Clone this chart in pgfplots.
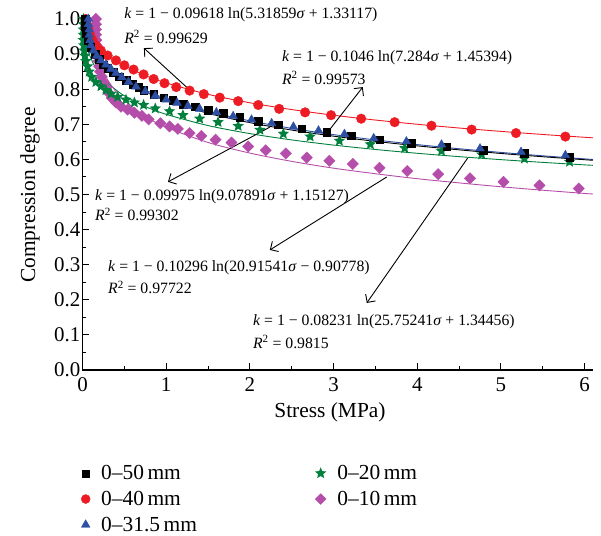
\documentclass[border=0pt]{standalone}
\usepackage{pgfplots}
\pgfplotsset{compat=1.18}
\usepackage{fontspec}
\setmainfont{Liberation Serif}
\usetikzlibrary{arrows.meta}
\definecolor{cred}{RGB}{237,28,36}
\definecolor{cblue}{RGB}{45,80,165}
\definecolor{cgreen}{RGB}{0,128,60}
\definecolor{cpurple}{RGB}{180,78,170}
\pgfdeclareplotmark{fstar}{%
  \pgfpathmoveto{\pgfqpointpolar{90}{\pgfplotmarksize}}%
  \pgfpathlineto{\pgfqpointpolar{126}{0.45\pgfplotmarksize}}%
  \pgfpathlineto{\pgfqpointpolar{162}{\pgfplotmarksize}}%
  \pgfpathlineto{\pgfqpointpolar{198}{0.45\pgfplotmarksize}}%
  \pgfpathlineto{\pgfqpointpolar{234}{\pgfplotmarksize}}%
  \pgfpathlineto{\pgfqpointpolar{270}{0.45\pgfplotmarksize}}%
  \pgfpathlineto{\pgfqpointpolar{306}{\pgfplotmarksize}}%
  \pgfpathlineto{\pgfqpointpolar{342}{0.45\pgfplotmarksize}}%
  \pgfpathlineto{\pgfqpointpolar{18}{\pgfplotmarksize}}%
  \pgfpathlineto{\pgfqpointpolar{54}{0.45\pgfplotmarksize}}%
  \pgfpathclose\pgfusepathqfill}
\begin{document}
\begin{tikzpicture}
\path[use as bounding box] (-82.5bp,-166bp) rectangle (518.5bp,370bp);
\begin{axis}[
  at={(0,0)}, anchor=south west,
  scale only axis, width=510.5bp, height=351bp,
  xmin=0, xmax=6.1, ymin=0, ymax=1.0,
  axis x line*=bottom, axis y line*=left,
  axis line style={line width=1.1bp},
  xtick={0,1,2,3,4,5,6},
  ytick={0,0.1,0.2,0.3,0.4,0.5,0.6,0.7,0.8,0.9,1.0},
  minor x tick num=1, minor y tick num=1,
  tick align=inside,
  major tick length=7bp, minor tick length=4bp,
  tick style={line width=1bp, black},
  yticklabel style={/pgf/number format/fixed, /pgf/number format/fixed zerofill, /pgf/number format/precision=1, inner sep=1bp, xshift=-1bp},
  xticklabel style={yshift=-4bp},
  ticklabel style={font=\fontsize{21}{24}\selectfont},
  /pgf/number format/assume math mode=true,
  xlabel={Stress (MPa)}, ylabel={Compression degree},
  label style={font=\fontsize{21.5}{25}\selectfont},
  xlabel style={at={(axis description cs:0.4848,-0.12)}, anchor=center},
  ylabel style={at={(axis description cs:-0.1028,0.4986)}, anchor=center},
  clip=false,
  legend columns=2,
  legend style={draw=none, fill=none, at={(axis description cs:-0.0088,-0.2600)}, anchor=north west,
    font=\fontsize{21.5}{25}\selectfont, row sep=6bp,
    /tikz/every odd column/.append style={column sep=9bp},
    /tikz/every even column/.append style={column sep=116bp}},
  legend cell align=left,
]
% fitted curves
\addplot[cred, line width=0.9bp, smooth, forget plot] coordinates {(0,0.967)(0.05,0.955)(0.1,0.9402)(0.2,0.916)(0.3,0.8967)(0.4,0.8807)(0.5,0.8669)(0.75,0.8392)(1,0.8178)(1.5,0.7854)(2,0.7613)(2.5,0.742)(3,0.7259)(3.5,0.7121)(4,0.7001)(4.5,0.6894)(5,0.6798)(5.5,0.671)(6,0.663)(6.1,0.6615)};
\addplot[cgreen, line width=0.9bp, smooth, forget plot] coordinates {(0,0.955)(0.05,0.92)(0.1,0.888)(0.15,0.864)(0.2,0.846)(0.3,0.8185)(0.4,0.798)(0.5,0.7815)(0.75,0.7508)(1,0.7284)(1.5,0.6964)(2,0.6735)(2.5,0.6555)(3,0.6408)(3.5,0.6283)(4,0.6174)(4.5,0.6079)(5,0.5993)(5.5,0.5915)(6,0.5844)(6.1,0.5831)};
\addplot[cpurple, line width=0.9bp, smooth, forget plot] coordinates {(0.09,1.0)(0.1,0.983)(0.12,0.9515)(0.15,0.9175)(0.2,0.878)(0.3,0.827)(0.4,0.7931)(0.5,0.768)(0.75,0.7227)(1,0.6915)(1.5,0.6482)(2,0.618)(2.5,0.5944)(3,0.575)(3.5,0.5592)(4,0.545)(4.5,0.5331)(5,0.522)(5.5,0.5122)(6,0.503)(6.1,0.5015)};
\addplot[cblue, line width=0.9bp, smooth, forget plot] coordinates {(0,0.955)(0.05,0.9375)(0.1,0.9184)(0.2,0.8882)(0.3,0.8649)(0.4,0.8458)(0.5,0.8297)(0.75,0.7977)(1,0.7733)(1.5,0.7368)(2,0.7098)(2.5,0.6884)(3,0.6706)(3.5,0.6555)(4,0.6422)(4.5,0.6304)(5,0.6199)(5.5,0.6102)(6,0.6015)(6.1,0.5998)};
\addplot[black, line width=0.9bp, smooth, forget plot] coordinates {(0,0.955)(0.05,0.948)(0.1,0.928)(0.2,0.8915)(0.3,0.8649)(0.4,0.8439)(0.5,0.8265)(0.75,0.7931)(1,0.7681)(1.5,0.7314)(2,0.7047)(2.5,0.6836)(3,0.6662)(3.5,0.6514)(4,0.6386)(4.5,0.6272)(5,0.6169)(5.5,0.6076)(6,0.5991)(6.1,0.5975)};
% data: 0-10 mm
\addplot[only marks, mark=square*, mark size=4bp, mark options={rotate=45}, color=cpurple, forget plot] coordinates {(0.16,1.0)(0.16,0.985)(0.16,0.97)(0.16,0.955)(0.165,0.94)(0.17,0.925)(0.17,0.91)(0.18,0.895)(0.19,0.88)(0.2,0.865)(0.21,0.85)(0.23,0.835)(0.25,0.82)(0.28,0.805)(0.31,0.79)(0.35,0.775)(0.4,0.762)(0.46,0.75)(0.54,0.742)(0.62,0.733)(0.71,0.724)(0.79,0.714)(0.93,0.703)(1.04,0.694)(1.14,0.687)(1.28,0.675)(1.42,0.667)(1.59,0.656)(1.78,0.648)(1.98,0.637)(2.19,0.626)(2.43,0.617)(2.68,0.605)(2.95,0.596)(3.23,0.587)(3.55,0.576)(3.88,0.567)(4.25,0.558)(4.63,0.546)(5.03,0.536)(5.46,0.526)(5.93,0.517)};
% 0-40 mm
\addplot[only marks, mark=*, mark size=4.8bp, color=cred, forget plot] coordinates {(0.04,1.0)(0.05,0.985)(0.07,0.97)(0.09,0.955)(0.12,0.94)(0.16,0.925)(0.22,0.91)(0.3,0.896)(0.4,0.882)(0.5,0.868)(0.61,0.856)(0.73,0.842)(0.85,0.829)(0.98,0.817)(1.12,0.806)(1.28,0.796)(1.45,0.786)(1.64,0.776)(1.86,0.766)(2.1,0.755)(2.35,0.744)(2.66,0.734)(2.97,0.726)(3.33,0.716)(3.73,0.706)(4.17,0.696)(4.65,0.685)(5.18,0.675)(5.77,0.665)};
% 0-20 mm
\addplot[only marks, mark=fstar, mark size=6bp, color=cgreen, forget plot] coordinates {(0.01,1.0)(0.01,0.985)(0.01,0.97)(0.01,0.955)(0.01,0.94)(0.015,0.925)(0.02,0.91)(0.03,0.895)(0.04,0.88)(0.06,0.865)(0.08,0.85)(0.11,0.835)(0.16,0.82)(0.22,0.808)(0.28,0.797)(0.34,0.787)(0.42,0.778)(0.52,0.77)(0.62,0.762)(0.73,0.755)(0.87,0.745)(1.04,0.737)(1.2,0.726)(1.4,0.716)(1.62,0.706)(1.86,0.695)(2.12,0.684)(2.4,0.673)(2.72,0.665)(3.07,0.653)(3.44,0.643)(3.85,0.632)(4.29,0.624)(4.77,0.614)(5.28,0.602)(5.82,0.593)};
% 0-50 mm
\addplot[only marks, mark=square*, mark size=3.8bp, color=black, forget plot] coordinates {(0.03,1.0)(0.03,0.98)(0.04,0.96)(0.06,0.94)(0.1,0.92)(0.15,0.9)(0.2,0.885)(0.25,0.87)(0.3,0.86)(0.37,0.848)(0.44,0.836)(0.52,0.826)(0.6,0.815)(0.67,0.806)(0.73,0.798)(0.85,0.786)(0.97,0.776)(1.08,0.768)(1.2,0.758)(1.35,0.75)(1.5,0.741)(1.68,0.731)(1.88,0.721)(2.1,0.709)(2.34,0.699)(2.62,0.687)(2.92,0.677)(3.21,0.668)(3.55,0.656)(3.93,0.646)(4.35,0.636)(4.79,0.627)(5.28,0.617)(5.82,0.606)};
% 0-31.5 mm
\addplot[only marks, mark=triangle*, mark size=5bp, color=cblue, forget plot] coordinates {(0.07,1.0)(0.07,0.985)(0.08,0.97)(0.08,0.955)(0.09,0.94)(0.1,0.925)(0.13,0.91)(0.17,0.895)(0.22,0.882)(0.28,0.87)(0.34,0.858)(0.4,0.846)(0.47,0.834)(0.55,0.821)(0.64,0.807)(0.75,0.794)(0.87,0.781)(1.0,0.77)(1.13,0.761)(1.26,0.752)(1.4,0.744)(1.6,0.734)(1.8,0.723)(2.02,0.713)(2.26,0.703)(2.52,0.693)(2.82,0.682)(3.13,0.672)(3.48,0.66)(3.87,0.651)(4.29,0.642)(4.75,0.631)(5.24,0.621)(5.77,0.612)};
% legend
\addlegendimage{only marks, mark=square*, mark size=3.5bp, color=black}
\addlegendentry{0–50\,mm}
\addlegendimage{only marks, mark=fstar, mark size=6bp, color=cgreen}
\addlegendentry{0–20\,mm}
\addlegendimage{only marks, mark=*, mark size=4.5bp, color=cred}
\addlegendentry{0–40\,mm}
\addlegendimage{only marks, mark=square*, mark size=3.8bp, mark options={rotate=45}, color=cpurple}
\addlegendentry{0–10\,mm}
\addlegendimage{only marks, mark=triangle*, mark size=5bp, color=cblue}
\addlegendentry{0–31.5\,mm}
% annotations
\begin{scope}[every node/.style={font=\fontsize{15.8}{19}\selectfont, anchor=west, inner sep=0pt}]
\node at (axis cs:0.497,1.011) {\textit{k} = 1 − 0.09618 ln(5.31859\textit{σ} + 1.33117)};
\node at (axis cs:0.497,0.949) {\textit{R}\textsuperscript{2} = 0.99629};
\node at (axis cs:2.382,0.889) {\textit{k} = 1 − 0.1046 ln(7.284\textit{σ} + 1.45394)};
\node at (axis cs:2.382,0.832) {\textit{R}\textsuperscript{2} = 0.99573};
\node at (axis cs:0.149,0.493) {\textit{k} = 1 − 0.09975 ln(9.07891\textit{σ} + 1.15127)};
\node at (axis cs:0.149,0.442) {\textit{R}\textsuperscript{2} = 0.99302};
\node at (axis cs:0.304,0.291) {\textit{k} = 1 − 0.10296 ln(20.91541\textit{σ} − 0.90778)};
\node at (axis cs:0.304,0.236) {\textit{R}\textsuperscript{2} = 0.97722};
\node at (axis cs:2.036,0.137) {\textit{k} = 1 − 0.08231 ln(25.75241\textit{σ} + 1.34456)};
\node at (axis cs:2.036,0.080) {\textit{R}\textsuperscript{2} = 0.9815};
\end{scope}
\begin{scope}[line width=0.9bp, -{Straight Barb[length=6bp,width=12bp]}]
\draw (axis cs:1.307,0.792) -- (axis cs:0.734,0.917);
\draw (axis cs:2.931,0.678) -- (axis cs:3.349,0.806);
\draw (axis cs:2.239,0.692) -- (axis cs:1.021,0.536);
\draw (axis cs:3.636,0.550) -- (axis cs:2.239,0.342);
\draw (axis cs:4.603,0.604) -- (axis cs:3.397,0.191);
\end{scope}
\end{axis}
\end{tikzpicture}
\end{document}
